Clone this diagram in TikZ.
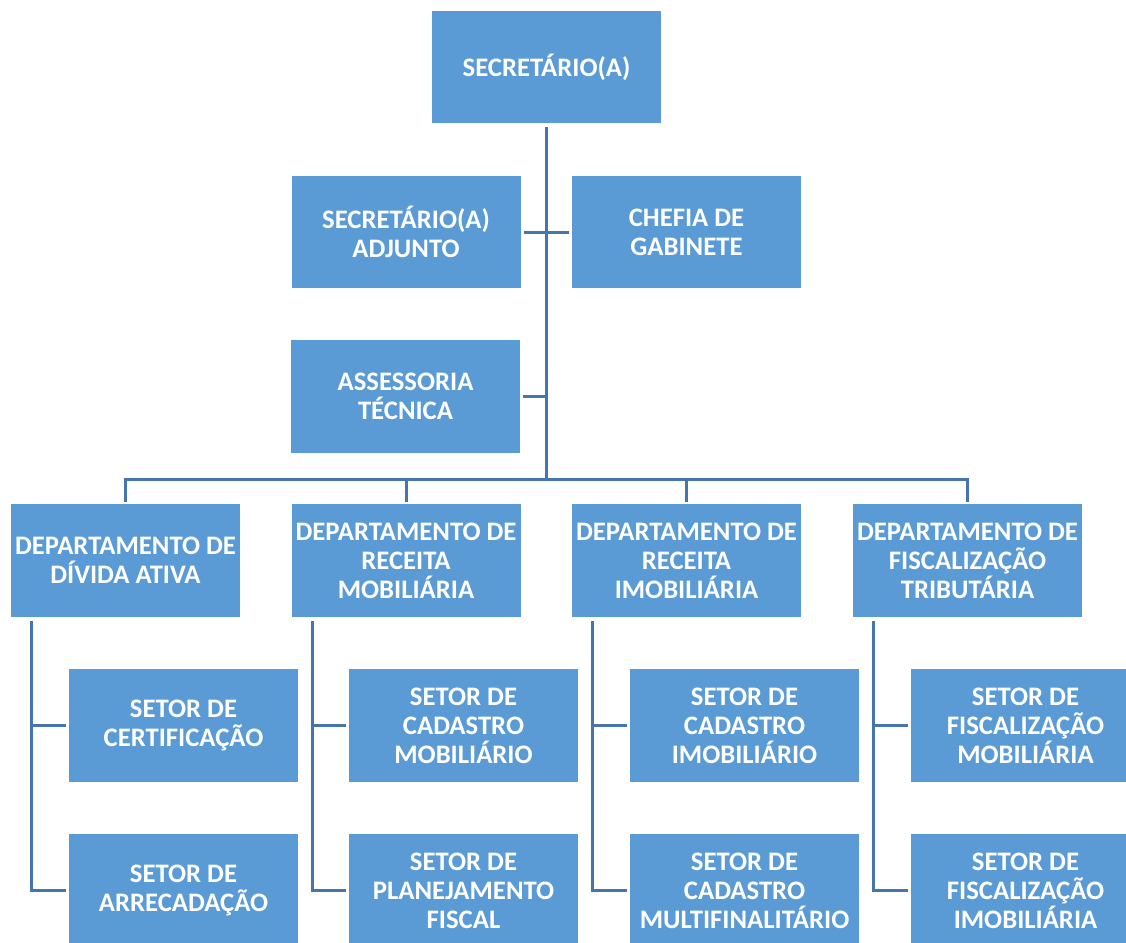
\documentclass[tikz,border=0pt]{standalone}
\usepackage{fontspec}
\setmainfont{Carlito}
\definecolor{boxblue}{HTML}{5B9BD5}
\definecolor{lineblue}{HTML}{4675AD}
\begin{document}
\begin{tikzpicture}[x=1pt,y=1pt,
  orgbox/.style={fill=boxblue,text=white,font=\fontsize{26.7}{29}\selectfont\bfseries,
    minimum width=229pt,minimum height=113pt,inner sep=0pt,align=center},
  link/.style={draw=lineblue,line width=3pt}]
\clip (0,0) rectangle (1126,-942);
\fill[white] (0,0) rectangle (1126,-942);
% top levels
\node[orgbox,minimum height=112pt] (top) at (546.5,-67) {SECRETÁRIO(A)};
\node[orgbox,minimum height=112pt] (adj) at (406,-232) {SECRETÁRIO(A)\\ADJUNTO};
\node[orgbox,minimum height=112pt] (chefia) at (686.5,-232) {CHEFIA DE\\GABINETE};
\node[orgbox] (assess) at (405.5,-396.5) {ASSESSORIA\\TÉCNICA};
% departments
\node[orgbox] (d1) at (125.5,-560.5) {DEPARTAMENTO DE\\DÍVIDA ATIVA};
\node[orgbox] (d2) at (406,-560.5) {DEPARTAMENTO DE\\RECEITA\\MOBILIÁRIA};
\node[orgbox] (d3) at (686.5,-560.5) {DEPARTAMENTO DE\\RECEITA\\IMOBILIÁRIA};
\node[orgbox] (d4) at (967.5,-560.5) {DEPARTAMENTO DE\\FISCALIZAÇÃO\\TRIBUTÁRIA};
% sectors
\node[orgbox] (sa1) at (183.5,-725.5) {SETOR DE\\CERTIFICAÇÃO};
\node[orgbox] (sb1) at (183.5,-890.5) {SETOR DE\\ARRECADAÇÃO};
\node[orgbox] (sa2) at (463.5,-725.5) {SETOR DE\\CADASTRO\\MOBILIÁRIO};
\node[orgbox] (sb2) at (463.5,-890.5) {SETOR DE\\PLANEJAMENTO\\FISCAL};
\node[orgbox] (sa3) at (744.5,-725.5) {SETOR DE\\CADASTRO\\IMOBILIÁRIO};
\node[orgbox] (sb3) at (744.5,-890.5) {SETOR DE\\CADASTRO\\MULTIFINALITÁRIO};
\node[orgbox] (sa4) at (1025.5,-725.5) {SETOR DE\\FISCALIZAÇÃO\\MOBILIÁRIA};
\node[orgbox] (sb4) at (1025.5,-890.5) {SETOR DE\\FISCALIZAÇÃO\\IMOBILIÁRIA};
% connectors
\coordinate (bus) at (546,-479);
\draw[link] ([yshift=-4pt]top.south -| bus) -- (bus);
\draw[link] ([xshift=3pt]adj.east) -- ([xshift=-3pt]chefia.west);
\draw[link] ([xshift=3pt]assess.east) -- (assess.east -| bus);
\draw[link] ([yshift=2pt]d1.north) |- (d4.north |- bus) -- ([yshift=2pt]d4.north);
\draw[link] (d2.north |- bus) -- ([yshift=2pt]d2.north);
\draw[link] (d3.north |- bus) -- ([yshift=2pt]d3.north);
\foreach \i in {1,2,3,4}{
  \coordinate (v\i) at ([xshift=21pt,yshift=-4pt]d\i.south west);
  \draw[link] (v\i) |- ([xshift=-3pt]sb\i.west);
  \draw[link] (v\i |- sa\i.west) -- ([xshift=-3pt]sa\i.west);
}
\end{tikzpicture}
\end{document}
